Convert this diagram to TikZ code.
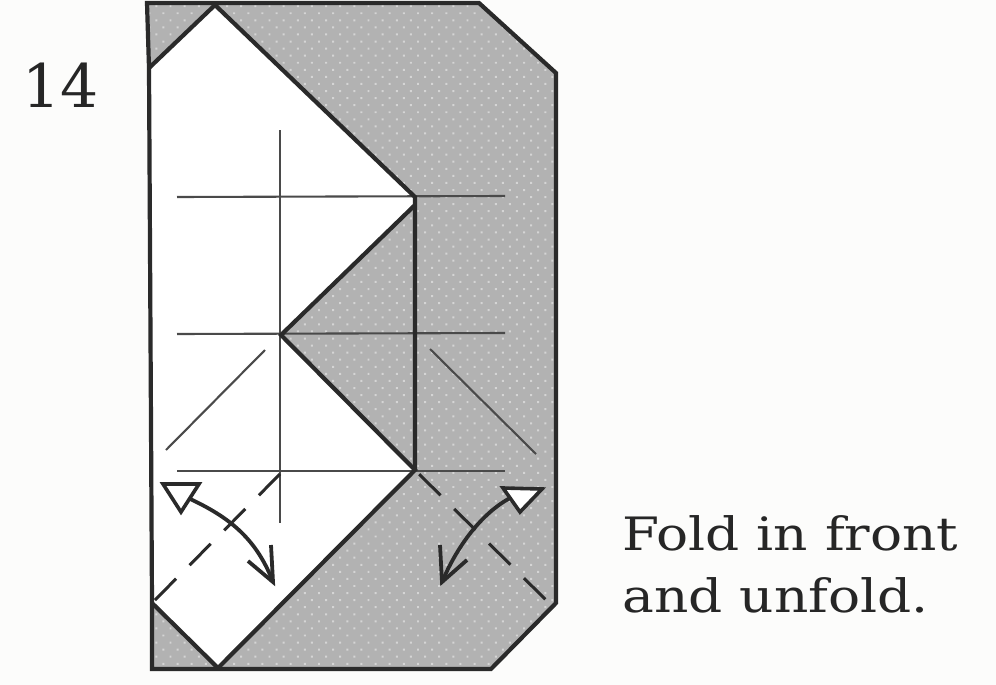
\documentclass[tikz,border=0pt]{standalone}
\usepackage{fontspec}
\setmainfont{DejaVu Serif}
\newfontfamily\widefont[FakeStretch=1.16]{DejaVu Serif}
\usetikzlibrary{patterns.meta}
\definecolor{paper}{HTML}{FCFCFB}
\definecolor{paperfold}{HTML}{B2B2B2}
\definecolor{ink}{HTML}{2A2A2A}
\tikzset{
  sheet/.style={fill=paperfold},
  dotted screen/.style={pattern={Dots[radius=0.7pt,distance=5pt,angle=45,xshift=0.4pt]},pattern color=white!45!paperfold},
  outline/.style={draw=ink,line width=2.1pt,line join=miter},
  crease/.style={draw=ink!85,line width=1.05pt},
  valley/.style={draw=ink,line width=1.5pt,dash pattern=on 15pt off 9.6pt},
  swing/.style={draw=ink,line width=1.9pt},
  hollowtip/.style={draw=ink,line width=1.8pt,fill=white,line join=miter},
  label/.style={inner sep=0pt,align=left,anchor=west,text=black!85}
}
\begin{document}
\begin{tikzpicture}[x=0.5pt,y=-0.5pt]
\useasboundingbox (0,0) rectangle (996,685);
\fill[paper] (0,0) rectangle (996,685);
% sheet corners
\coordinate (tl) at (147,3);
\coordinate (tr) at (479,3);
\coordinate (rt) at (556,73);
\coordinate (rb) at (556,603);
\coordinate (br) at (491,669);
\coordinate (bl) at (152,669);
\coordinate (lb) at (152,603);
\coordinate (lt) at (149,68);
\coordinate (apex) at (215,5);
\coordinate (ur) at (415,197);
\coordinate (urin) at (415,205);
\coordinate (mid) at (281,335);
\coordinate (lr) at (415,470);
\coordinate (foot) at (218,668);
% grey paper
\path[sheet] (tl) -- (tr) -- (rt) -- (rb) -- (br) -- (bl) -- (lb) -- (lt) -- cycle;
\path[dotted screen] (tl) -- (tr) -- (rt) -- (rb) -- (br) -- (bl) -- (lb) -- (lt) -- cycle;
% white paper
\fill[white!98!paper] (lt) -- (apex) -- (ur) -- (urin) -- (mid) -- (lr) -- (foot) -- (lb) -- cycle;
% thin creases
\coordinate (v1) at (280,130); \coordinate (v2) at (280,523);
\coordinate (h1a) at (177,197); \coordinate (h1b) at (505,196);
\coordinate (h2a) at (177,334); \coordinate (h2b) at (505,333);
\coordinate (h3a) at (177,471); \coordinate (h3b) at (505,471);
\coordinate (d1a) at (265,350); \coordinate (d1b) at (166,450);
\coordinate (d2a) at (430,349); \coordinate (d2b) at (536,454);
\draw[crease] (v1) -- (v2);
\draw[crease] (h1a) -- (h1b);
\draw[crease] (h2a) -- (h2b);
\draw[crease] (h3a) -- (h3b);
\draw[crease] (d1a) -- (d1b);
\draw[crease] (d2a) -- (d2b);
% valley folds
\coordinate (vl) at (280,474);
\coordinate (vr) at (549,603);
\draw[valley] (vl) -- (lb);
\draw[valley,dash phase=-3pt] (lr) -- (vr);
% outlines
\draw[outline] (lt) -- (tl) -- (tr) -- (rt) -- (rb) -- (br) -- (bl) -- (lb) -- cycle;
\draw[outline] (lt) -- (apex) -- (ur) -- (lr);
\draw[outline] (urin) -- (mid) -- (lr) -- (foot) -- (lb);
% left arrow
\coordinate (la1) at (163,484); \coordinate (la2) at (199,484); \coordinate (la3) at (181,512);
\coordinate (las) at (186,497); \coordinate (lae) at (273,582);
\coordinate (lab1) at (271,545); \coordinate (lab2) at (248,561);
\draw[swing] (las) .. controls (225,515) and (255,535) .. (lae);
\draw[swing,line join=miter] (lab1) -- (lae) -- (lab2);
\draw[hollowtip] (la1) -- (la2) -- (la3) -- cycle;
% right arrow
\coordinate (ra1) at (503,488); \coordinate (ra2) at (542,489); \coordinate (ra3) at (520,512);
\coordinate (ras) at (512,497); \coordinate (rae) at (442,582);
\coordinate (rab1) at (440,545); \coordinate (rab2) at (467,560);
\draw[swing] (ras) .. controls (490,508) and (462,535) .. (rae);
\draw[swing,line join=miter] (rab1) -- (rae) -- (rab2);
\draw[hollowtip] (ra1) -- (ra2) -- (ra3) -- cycle;
% labels
\node[label,font=\fontsize{30}{30}\selectfont] (num) at (22,85) {14};
\node[label,font=\widefont\fontsize{23}{31}\selectfont] (cap) at (622,564) {Fold in front\\and unfold.};
\end{tikzpicture}
\end{document}
